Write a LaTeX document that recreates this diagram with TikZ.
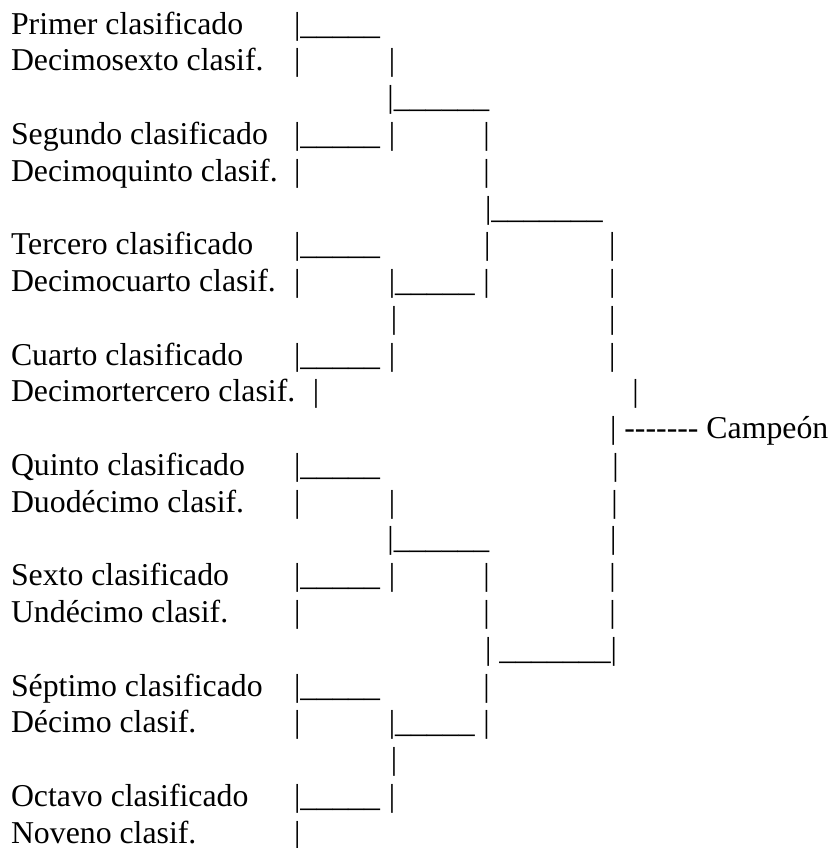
\documentclass[tikz,border=0pt]{standalone}
\usepackage{fontspec}
\setmainfont{Liberation Serif}
\newcommand\seg[4]{\node[tx] (#1) at (#2,{34.2+36.77*(#3-1)}) {#4};}
\newcommand\hy{\hbox{-}}
\begin{document}
\begin{tikzpicture}[x=0.3774pt,y=-0.3774pt,
  tx/.style={anchor=base west,inner sep=0pt,outer sep=0pt,font=\fontsize{12pt}{13.8pt}\selectfont}]
\useasboundingbox (0,0) rectangle (833,848);
% row 1-3
\seg{t1}{11}{1}{Primer clasificado}
\seg{p1a}{294.1}{1}{|\_\_\_\_\_}
\seg{t2}{11}{2}{Decimosexto clasif.}
\seg{p2a}{294.1}{2}{|}
\seg{p2b}{388.8}{2}{|}
\seg{p3a}{387.5}{3}{|\_\_\_\_\_\_}
% row 4-6
\seg{t4}{11}{4}{Segundo clasificado}
\seg{p4a}{294.1}{4}{|\_\_\_\_\_}
\seg{p4b}{388.8}{4}{|}
\seg{p4c}{483.5}{4}{|}
\seg{t5}{11}{5}{Decimoquinto clasif.}
\seg{p5a}{294.1}{5}{|}
\seg{p5b}{483.5}{5}{|}
\seg{p6a}{485.1}{6}{|\_\_\_\_\_\_\_}
% row 7-9
\seg{t7}{11}{7}{Tercero clasificado}
\seg{p7a}{294.1}{7}{|\_\_\_\_\_}
\seg{p7b}{484.1}{7}{|}
\seg{p7c}{609.1}{7}{|}
\seg{t8}{11}{8}{Decimocuarto clasif.}
\seg{p8a}{294.1}{8}{|}
\seg{p8b}{388.8}{8}{|\_\_\_\_\_}
\seg{p8c}{483.5}{8}{|}
\seg{p8d}{609.1}{8}{|}
\seg{p9a}{390.8}{9}{|}
\seg{p9b}{609.1}{9}{|}
% row 10-12
\seg{t10}{11}{10}{Cuarto clasificado}
\seg{p10a}{294.1}{10}{|\_\_\_\_\_}
\seg{p10b}{388.8}{10}{|}
\seg{p10c}{609.1}{10}{|}
\seg{t11}{11}{11}{Decimortercero clasif.}
\seg{p11a}{312.8}{11}{|}
\seg{p11b}{632.5}{11}{|}
\seg{c12}{610.1}{12}{| \hy\hy\hy\hy\hy\hy\hy\ Campeón}
% row 13-15
\seg{t13}{11}{13}{Quinto clasificado}
\seg{p13a}{294.1}{13}{|\_\_\_\_\_}
\seg{p13b}{612.3}{13}{|}
\seg{t14}{11}{14}{Duodécimo clasif.}
\seg{p14a}{294.1}{14}{|}
\seg{p14b}{388.8}{14}{|}
\seg{p14c}{611.5}{14}{|}
\seg{p15a}{387.5}{15}{|\_\_\_\_\_\_}
\seg{p15b}{610.1}{15}{|}
% row 16-18
\seg{t16}{11}{16}{Sexto clasificado}
\seg{p16a}{294.1}{16}{|\_\_\_\_\_}
\seg{p16b}{388.8}{16}{|}
\seg{p16c}{483.5}{16}{|}
\seg{p16d}{609.5}{16}{|}
\seg{t17}{11}{17}{Undécimo clasif.}
\seg{p17a}{294.1}{17}{|}
\seg{p17b}{483.5}{17}{|}
\seg{p17c}{609.5}{17}{|}
\seg{p18a}{485.1}{18}{| \_\_\_\_\_\_\_|}
% row 19-21
\seg{t19}{11}{19}{Séptimo clasificado}
\seg{p19a}{294.1}{19}{|\_\_\_\_\_}
\seg{p19b}{483.5}{19}{|}
\seg{t20}{11}{20}{Décimo clasif.}
\seg{p20a}{294.1}{20}{|}
\seg{p20b}{388.8}{20}{|\_\_\_\_\_}
\seg{p20c}{483.5}{20}{|}
\seg{p21a}{390.8}{21}{|}
% row 22-23
\seg{t22}{11}{22}{Octavo clasificado}
\seg{p22a}{294.1}{22}{|\_\_\_\_\_}
\seg{p22b}{388.8}{22}{|}
\seg{t23}{11}{23}{Noveno clasif.}
\seg{p23a}{294.1}{23}{|}
\end{tikzpicture}
\end{document}
